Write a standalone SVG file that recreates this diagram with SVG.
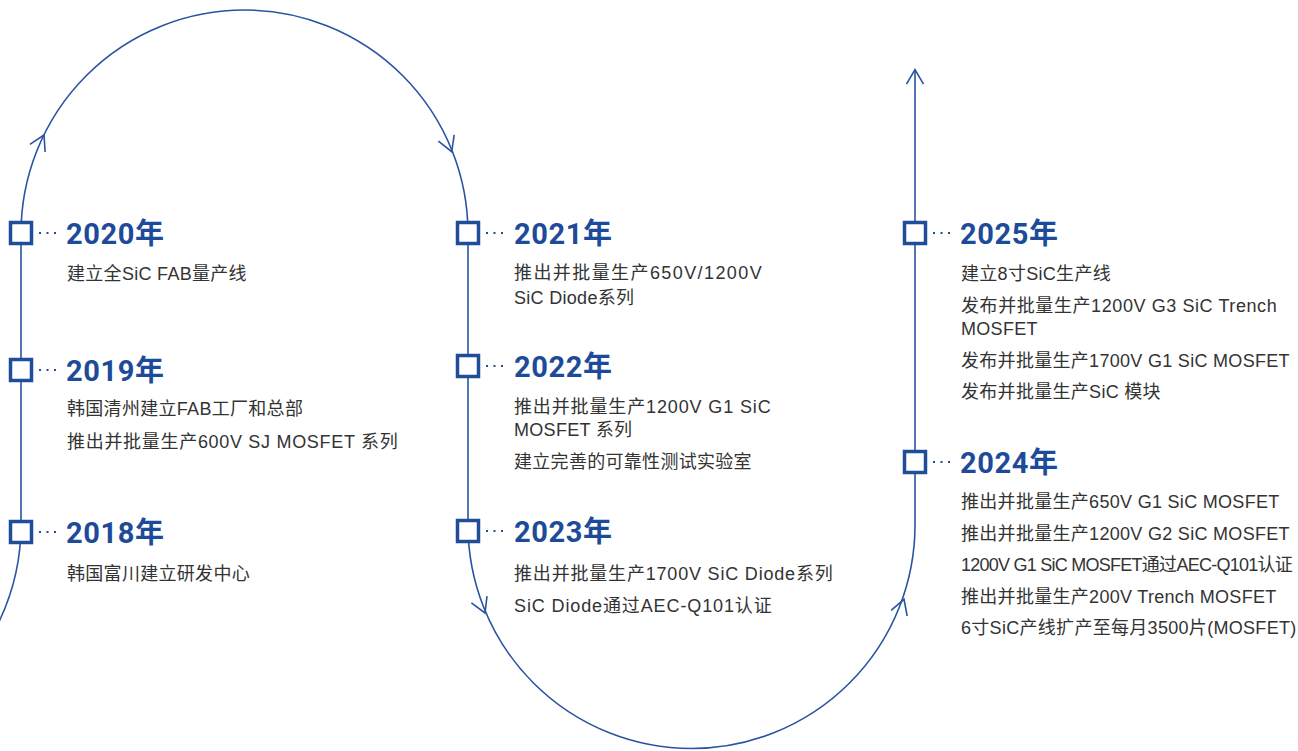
<svg xmlns="http://www.w3.org/2000/svg" xmlns:xlink="http://www.w3.org/1999/xlink" width="1298" height="751" viewBox="0 0 1298 751">
<style>
.ln{fill:none;stroke:#2a54a2;stroke-width:1.6}
.chev{fill:none;stroke:#2a54a2;stroke-width:1.6;stroke-linejoin:miter}
.box{fill:#fff;stroke:#1f4d9a;stroke-width:3.5}
.dot{fill:#1f4d9a}
.yr{font-family:Roboto,"Liberation Sans","Noto Sans CJK SC",sans-serif;font-weight:bold;font-size:29px;fill:#1e4b99;letter-spacing:0.6px}
.tx{font-family:"Liberation Sans","Noto Sans CJK SC",sans-serif;font-size:18px;fill:#333;letter-spacing:0.3px}
</style>
<defs>
<path id="chev" d="M-14.7,-8.5 L0,0 L-14.7,8.5"/>
<g id="mk">
<rect class="box" x="-10.5" y="-10.5" width="21" height="21"/>
<rect class="dot" x="18" y="-1" width="2" height="2"/>
<rect class="dot" x="25.5" y="-1" width="2" height="2"/>
<rect class="dot" x="33" y="-1" width="2" height="2"/>
</g>
</defs>
<rect width="1298" height="751" fill="#fff"/>
<g id="connectors">
<path class="ln" d="M -63.5,700 A 223.5 223.5 0 0 0 21,525 L 21,233.5 A 223.5 223.5 0 0 1 468,233.5 L 468,525 A 223.5 223.5 0 0 0 915,525 L 915,70"/>
<use href="#chev" class="chev" transform="translate(44,135) rotate(-63.8)"/>
<use href="#chev" class="chev" transform="translate(451.7,151.7) rotate(68.5)"/>
<use href="#chev" class="chev" transform="translate(485,613) rotate(66.8)"/>
<use href="#chev" class="chev" transform="translate(904,599.3) rotate(-70.7)"/>
<use href="#chev" class="chev" transform="translate(915,69.5) rotate(-90)"/>
</g>
<g id="n2020">
<use href="#mk" transform="translate(21,233)"/>
<text class="yr" x="66" y="244">2020年</text>
<text class="tx" x="67" y="279.5">建立全SiC FAB量产线</text>
</g>
<g id="n2019">
<use href="#mk" transform="translate(21,370)"/>
<text class="yr" x="66" y="381">2019年</text>
<text class="tx" x="67" y="414.5">韩国清州建立FAB工厂和总部</text>
<text class="tx" x="67" y="447.5" textLength="331" lengthAdjust="spacing">推出并批量生产600V SJ MOSFET 系列</text>
</g>
<g id="n2018">
<use href="#mk" transform="translate(21,532)"/>
<text class="yr" x="66" y="543">2018年</text>
<text class="tx" x="67" y="579.5">韩国富川建立研发中心</text>
</g>
<g id="n2021">
<use href="#mk" transform="translate(468,233)"/>
<text class="yr" x="514" y="244">2021年</text>
<text class="tx" x="514" y="278.5" textLength="248" lengthAdjust="spacing">推出并批量生产650V/1200V</text>
<text class="tx" x="514" y="303.5">SiC Diode系列</text>
</g>
<g id="n2022">
<use href="#mk" transform="translate(468,366)"/>
<text class="yr" x="514" y="377">2022年</text>
<text class="tx" x="514" y="413" textLength="257" lengthAdjust="spacing">推出并批量生产1200V G1 SiC</text>
<text class="tx" x="514" y="436">MOSFET 系列</text>
<text class="tx" x="514" y="468">建立完善的可靠性测试实验室</text>
</g>
<g id="n2023">
<use href="#mk" transform="translate(468,531)"/>
<text class="yr" x="514" y="542">2023年</text>
<text class="tx" x="514" y="580" textLength="319" lengthAdjust="spacing">推出并批量生产1700V SiC Diode系列</text>
<text class="tx" x="514" y="611.5" textLength="258" lengthAdjust="spacing">SiC Diode通过AEC-Q101认证</text>
</g>
<g id="n2025">
<use href="#mk" transform="translate(915,233)"/>
<text class="yr" x="960" y="244">2025年</text>
<text class="tx" x="961" y="280">建立8寸SiC生产线</text>
<text class="tx" x="961" y="311.5" textLength="316" lengthAdjust="spacing">发布并批量生产1200V G3 SiC Trench</text>
<text class="tx" x="961" y="335">MOSFET</text>
<text class="tx" x="961" y="366.5">发布并批量生产1700V G1 SiC MOSFET</text>
<text class="tx" x="961" y="398">发布并批量生产SiC 模块</text>
</g>
<g id="n2024">
<use href="#mk" transform="translate(915,462)"/>
<text class="yr" x="960" y="473">2024年</text>
<text class="tx" x="961" y="508">推出并批量生产650V G1 SiC MOSFET</text>
<text class="tx" x="961" y="539.5">推出并批量生产1200V G2 SiC MOSFET</text>
<text class="tx" x="961" y="570.5" textLength="332" lengthAdjust="spacing">1200V G1 SiC MOSFET通过AEC-Q101认证</text>
<text class="tx" x="961" y="602.5">推出并批量生产200V Trench MOSFET</text>
<text class="tx" x="961" y="633.5">6寸SiC产线扩产至每月3500片(MOSFET)</text>
</g>
</svg>
